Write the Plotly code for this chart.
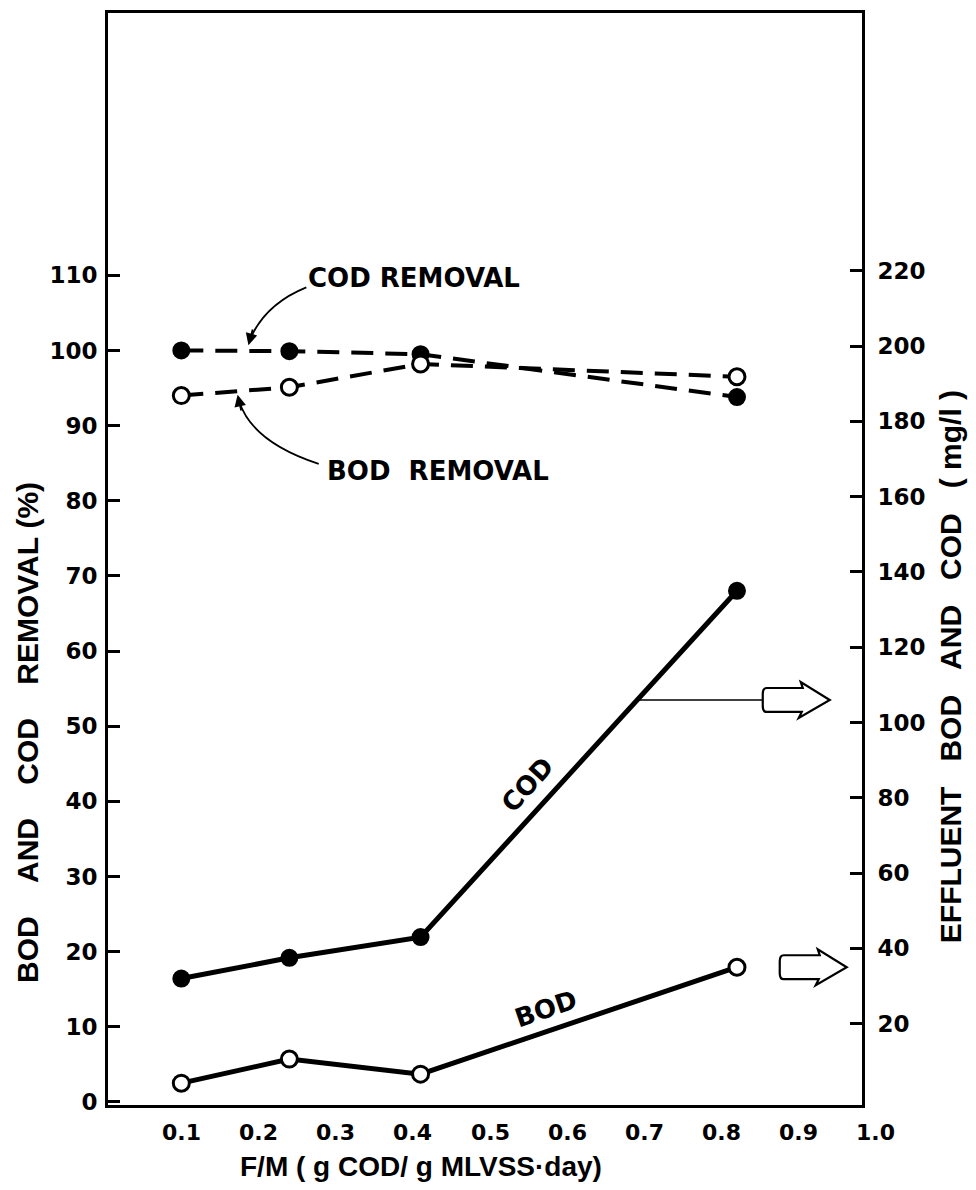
import plotly.graph_objects as go

# ---- data ----
fm = [0.1, 0.24, 0.41, 0.82]                 # F/M, g COD / g MLVSS-day
cod_removal = [100.0, 99.9, 99.5, 93.8]      # %
bod_removal = [94.0, 95.1, 98.2, 96.5]       # %
cod_effluent = [32.0, 37.5, 43.0, 135.0]     # mg/l
bod_effluent = [4.2, 10.6, 6.6, 35.0]        # mg/l

x_ticks = [0.1, 0.2, 0.3, 0.4, 0.5, 0.6, 0.7, 0.8, 0.9, 1.0]
x_tick_text = ["0.1", "0.2", "0.3", "0.4", "0.5", "0.6", "0.7", "0.8", "0.9", "1.0"]
left_ticks = [0, 10, 20, 30, 40, 50, 60, 70, 80, 90, 100, 110]
right_ticks = [20, 40, 60, 80, 100, 120, 140, 160, 180, 200, 220]

# ---- geometry ----
W, H = 976, 1190
ML, MR, MT, MB = 108, 114, 10, 85
X_RANGE = [0.005, 0.982]
Y_RANGE = [-0.4, 144.9]
Y2_RANGE = [-1.6, 288.5]
PW = W - ML - MR
PH = H - MT - MB
PX_X = (X_RANGE[1] - X_RANGE[0]) / PW      # data units per px
PX_Y2 = (Y2_RANGE[1] - Y2_RANGE[0]) / PH


def xpaper(v):
    return (v - X_RANGE[0]) / (X_RANGE[1] - X_RANGE[0])


NB = "\u00a0"
NUM_FONT = dict(family="DejaVu Sans", size=23, color="black")
XNUM_FONT = dict(family="DejaVu Sans", size=22, color="black")
TITLE_FONT = dict(family="Liberation Sans Narrow, Liberation Sans, Arial", size=28, color="black")
VTITLE_FONT = dict(family="Liberation Sans Narrow, Liberation Sans, Arial", size=30, color="black")
LABEL_FONT = dict(family="DejaVu Sans", size=26, color="black")

fig = go.Figure()

# removal curves (left axis), dashed
fig.add_trace(go.Scatter(
    x=fm, y=cod_removal, mode="lines+markers", name="COD removal",
    line=dict(color="black", width=4, dash="22px,12px"),
    marker=dict(symbol="circle", size=16, color="black", line=dict(color="black", width=2)),
    yaxis="y"))
fig.add_trace(go.Scatter(
    x=fm, y=bod_removal, mode="lines+markers", name="BOD removal",
    line=dict(color="black", width=4, dash="22px,12px"),
    marker=dict(symbol="circle", size=16, color="white", line=dict(color="black", width=3)),
    yaxis="y"))

# effluent curves (right axis), solid
fig.add_trace(go.Scatter(
    x=fm, y=cod_effluent, mode="lines+markers", name="COD",
    line=dict(color="black", width=5),
    marker=dict(symbol="circle", size=16, color="black", line=dict(color="black", width=2)),
    yaxis="y2"))
fig.add_trace(go.Scatter(
    x=fm, y=bod_effluent, mode="lines+markers", name="BOD",
    line=dict(color="black", width=5),
    marker=dict(symbol="circle", size=16, color="white", line=dict(color="black", width=3)),
    yaxis="y2"))

annotations = []
shapes = []

# x tick labels (1.0 sits just past the frame, so place them in paper units)
for v, t in zip(x_ticks, x_tick_text):
    annotations.append(dict(x=xpaper(v), xref="paper", y=(H - MB - 1133) / PH, yref="paper",
                            text="<b>" + t + "</b>", showarrow=False,
                            xanchor="center", yanchor="middle", font=XNUM_FONT))

# axis titles
annotations.append(dict(x=xpaper(0.41), xref="paper", y=(H - MB - 1167) / PH, yref="paper",
                        text="<b>F/M" + NB + "( g COD/ g MLVSS\u00b7day)</b>", showarrow=False,
                        xanchor="center", yanchor="middle", font=TITLE_FONT))
gap4 = NB * 4
annotations.append(dict(x=(27 - ML) / PW, xref="paper", y=(H - MB - 732) / PH, yref="paper",
                        text="<b>BOD" + gap4 + "AND" + gap4 + "COD" + gap4 + "REMOVAL" + NB + "(%)</b>",
                        showarrow=False, textangle=-90,
                        xanchor="center", yanchor="middle", font=VTITLE_FONT))
gap3 = NB * 3
annotations.append(dict(x=(950 - ML) / PW, xref="paper", y=(H - MB - 665) / PH, yref="paper",
                        text="<b>EFFLUENT" + gap3 + "BOD" + gap3 + "AND" + gap3 + "COD" + gap3 +
                             "(" + NB + "mg/l" + NB + ")</b>",
                        showarrow=False, textangle=-90,
                        xanchor="center", yanchor="middle", font=VTITLE_FONT))

# removal labels and curved pointers
annotations.append(dict(x=0.262, xref="x", y=109.6, yref="y", text="<b>COD" + NB + "REMOVAL</b>",
                        showarrow=False, xanchor="left", yanchor="middle", font=LABEL_FONT))
annotations.append(dict(x=0.286, xref="x", y=84.0, yref="y", text="<b>BOD" + NB * 2 + "REMOVAL</b>",
                        showarrow=False, xanchor="left", yanchor="middle", font=LABEL_FONT))

shapes.append(dict(type="path", xref="x", yref="y",
                   path="M 0.262,108.4 Q 0.209,106.2 0.189,101.5",
                   line=dict(color="black", width=1.8)))
annotations.append(dict(x=0.187, y=100.7, xref="x", yref="y", ax=0.193, ay=103.0,
                        axref="x", ayref="y", text="", showarrow=True,
                        arrowhead=2, arrowsize=1.3, arrowwidth=1.8, arrowcolor="black"))
shapes.append(dict(type="path", xref="x", yref="y",
                   path="M 0.278,84.9 Q 0.192,87.8 0.175,93.2",
                   line=dict(color="black", width=1.8)))
annotations.append(dict(x=0.173, y=94.1, xref="x", yref="y", ax=0.178, ay=91.8,
                        axref="x", ayref="y", text="", showarrow=True,
                        arrowhead=2, arrowsize=1.3, arrowwidth=1.8, arrowcolor="black"))

# curve labels along the effluent lines
annotations.append(dict(x=0.548, xref="x", y=83.5, yref="y2", text="<b>COD</b>",
                        showarrow=False, textangle=-48, font=LABEL_FONT))
annotations.append(dict(x=0.572, xref="x", y=24.0, yref="y2", text="<b>BOD</b>",
                        showarrow=False, textangle=-19, font=LABEL_FONT))


def block_arrow(x_left, y_mid):
    """Outlined block arrow pointing right (sizes in px converted to data units)."""
    def px(dx, dy):
        return "%.5f,%.4f" % (x_left + dx * PX_X, y_mid + dy * PX_Y2)
    return ("M " + px(2, -12) + " L " + px(37, -12) + " L " + px(34, -18) +
            " L " + px(65, 0) + " L " + px(36, 18) + " L " + px(38, 12) +
            " L " + px(2, 12) + " Q " + px(-2, 12) + " " + px(-2, 6) +
            " L " + px(-2, -6) + " Q " + px(-2, -12) + " " + px(2, -12) + " Z")


# COD effluent pointer to right axis
cod_y_arrow = 106.0
x_on_cod = fm[2] + (cod_y_arrow - cod_effluent[2]) / (cod_effluent[3] - cod_effluent[2]) * (fm[3] - fm[2])
cod_block_x = 0.856
shapes.append(dict(type="line", xref="x", yref="y2", x0=x_on_cod, x1=cod_block_x - 2 * PX_X,
                   y0=cod_y_arrow, y1=cod_y_arrow, line=dict(color="black", width=1.6)))
shapes.append(dict(type="path", xref="x", yref="y2", path=block_arrow(cod_block_x, cod_y_arrow),
                   line=dict(color="black", width=2.2), fillcolor="white"))
# BOD effluent pointer
shapes.append(dict(type="path", xref="x", yref="y2", path=block_arrow(0.878, bod_effluent[3]),
                   line=dict(color="black", width=2.2), fillcolor="white"))

axis_common = dict(showgrid=False, zeroline=False, showline=True, linecolor="black",
                   linewidth=3, ticks="inside", ticklen=12, tickwidth=3, tickcolor="black",
                   tickfont=NUM_FONT)

fig.update_layout(
    width=W, height=H,
    margin=dict(l=ML, r=MR, t=MT, b=MB),
    paper_bgcolor="white", plot_bgcolor="white",
    showlegend=False,
    xaxis=dict(range=X_RANGE, showgrid=False, zeroline=False, showline=True,
               linecolor="black", linewidth=3, mirror=True, ticks="",
               showticklabels=False),
    yaxis=dict(range=Y_RANGE, tickvals=left_ticks,
               ticktext=["<b>%d</b>" % v for v in left_ticks],
               ticklabelstandoff=3, **axis_common),
    yaxis2=dict(range=Y2_RANGE, overlaying="y", side="right", tickvals=right_ticks,
                ticktext=["<b>%d</b>" % v for v in right_ticks],
                ticklabelstandoff=8, **axis_common),
    annotations=annotations,
    shapes=shapes,
)

fig.write_html("out.html")
